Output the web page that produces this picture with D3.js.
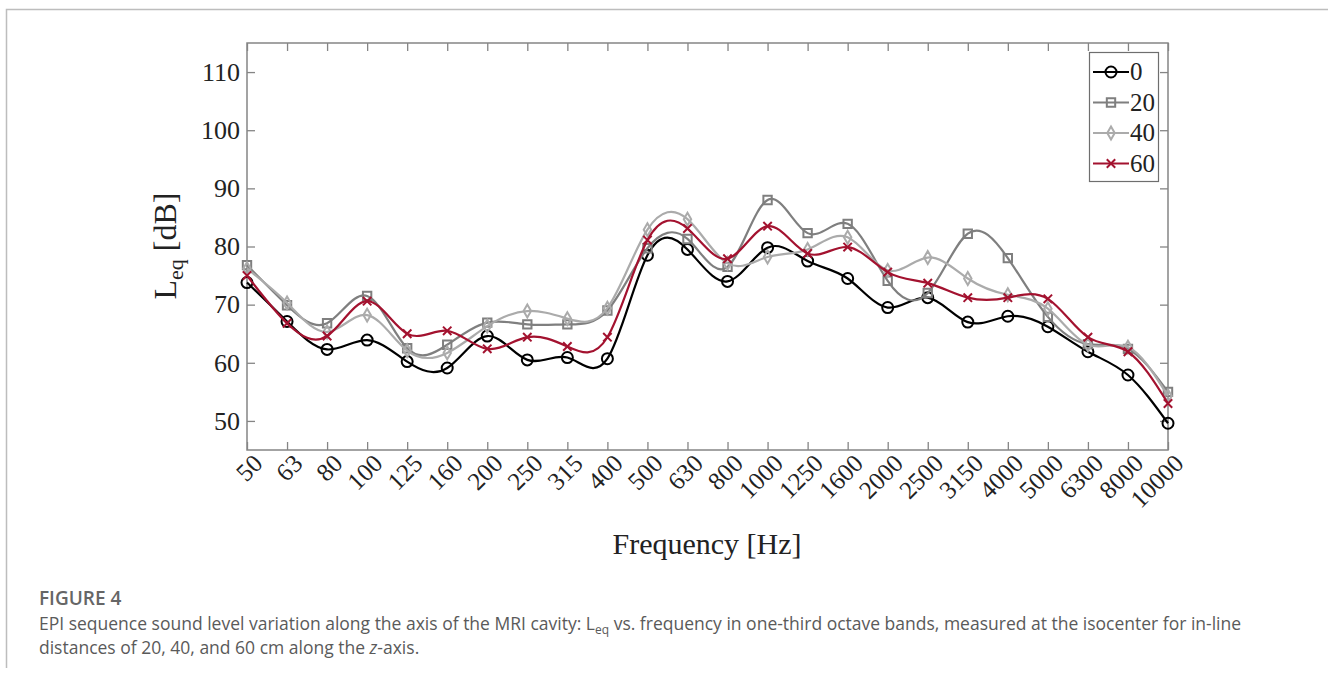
<!DOCTYPE html>
<html>
<head>
<meta charset="utf-8">
<script src="https://cdn.jsdelivr.net/npm/d3@7"></script>
<style>
  body { margin: 0; background: #fff; }
  svg { display: block; }
</style>
</head>
<body>
<svg id="fig" width="1328" height="675"></svg>
<script>
// one-third octave band centre frequencies (Hz)
const freqLabels = ["50", "63", "80", "100", "125", "160", "200", "250", "315", "400",
  "500", "630", "800", "1000", "1250", "1600", "2000", "2500", "3150", "4000",
  "5000", "6300", "8000", "10000"];

// Leq [dB] per distance (cm)
const leq0 = [73.8, 67.1, 62.3, 63.9, 60.2, 59.1, 64.6, 60.5, 60.9, 60.7,
  78.5, 79.5, 74.0, 79.8, 77.5, 74.5, 69.5, 71.2, 67.0, 68.0,
  66.2, 61.9, 57.9, 49.6];
const leq20 = [76.8, 69.9, 66.8, 71.5, 62.5, 63.1, 66.9, 66.6, 66.6, 69.0,
  79.7, 81.3, 76.5, 88.0, 82.3, 83.9, 74.1, 72.0, 82.2, 78.0,
  67.9, 63.2, 62.4, 55.0];
const leq40 = [76.2, 70.3, 65.3, 68.2, 62.1, 61.7, 66.3, 68.9, 67.6, 69.4,
  82.9, 84.7, 77.1, 78.2, 79.5, 81.6, 75.9, 78.1, 74.5, 71.7,
  69.3, 63.1, 62.7, 54.3];
const leq60 = [75.0, 66.8, 64.6, 70.6, 65.0, 65.5, 62.4, 64.4, 62.8, 64.4,
  81.1, 83.1, 77.9, 83.5, 78.8, 79.9, 75.6, 73.7, 71.2, 71.2,
  71.0, 64.4, 61.9, 53.0];

const seriesNames = ["0", "20", "40", "60"];
const yTicks = [50, 60, 70, 80, 90, 100, 110];

const series = [
  { name: seriesNames[0], values: leq0, color: "#000000", symbol: d3.symbolCircle, size: 95 },
  { name: seriesNames[1], values: leq20, color: "#7f7f7f", symbol: d3.symbolSquare, size: 70 },
  { name: seriesNames[2], values: leq40, color: "#ababab", symbol: d3.symbolDiamond, size: 48 },
  { name: seriesNames[3], values: leq60, color: "#a3122f", symbol: d3.symbolTimes, size: 48 }
];

const svg = d3.select("#fig");
const serif = "'Liberation Serif', 'DejaVu Serif', serif";
const axisGrey = "#858585";

// figure panel border
svg.append("path")
  .attr("d", "M6.5,668V9.5H1328")
  .attr("fill", "none")
  .attr("stroke", "#bdbdbd")
  .attr("stroke-width", 1.5);

const pLeft = 247, pRight = 1168, pTop = 43, pBottom = 450;

const x = d3.scalePoint().domain(freqLabels).range([pLeft, pRight]);
const y = d3.scaleLinear().domain([45, 115]).range([pBottom, pTop]);

// axes, ticks pointing inward
const gLeft = svg.append("g").attr("transform", `translate(${pLeft},0)`)
  .call(d3.axisLeft(y).tickValues(yTicks).tickSizeInner(-8).tickSizeOuter(0).tickPadding(7));
const gRight = svg.append("g").attr("transform", `translate(${pRight},0)`)
  .call(d3.axisRight(y).tickValues(yTicks).tickSizeInner(-8).tickSizeOuter(0).tickFormat(""));
const gBottom = svg.append("g").attr("transform", `translate(0,${pBottom})`)
  .call(d3.axisBottom(x).tickSizeInner(-8).tickSizeOuter(0).tickFormat(""));
const gTop = svg.append("g").attr("transform", `translate(0,${pTop})`)
  .call(d3.axisTop(x).tickSizeInner(-8).tickSizeOuter(0).tickFormat(""));

[gLeft, gRight, gBottom, gTop].forEach(g => {
  g.select(".domain").remove();
  g.selectAll(".tick line").attr("stroke", axisGrey).attr("stroke-width", 1.3);
});
gLeft.selectAll(".tick text")
  .attr("font-family", serif)
  .attr("font-size", 26)
  .attr("fill", "#222");

svg.append("rect")
  .attr("x", pLeft).attr("y", pTop)
  .attr("width", pRight - pLeft).attr("height", pBottom - pTop)
  .attr("fill", "none")
  .attr("stroke", axisGrey)
  .attr("stroke-width", 1.5);

// rotated frequency labels
svg.append("g").selectAll("text")
  .data(freqLabels)
  .join("text")
  .attr("transform", d => `translate(${x(d) + 17},465) rotate(-45)`)
  .attr("text-anchor", "end")
  .attr("font-family", serif)
  .attr("font-size", 25)
  .attr("fill", "#222")
  .text(d => d);

// axis titles
svg.append("text")
  .attr("x", 707).attr("y", 554)
  .attr("text-anchor", "middle")
  .attr("font-family", serif)
  .attr("font-size", 30)
  .attr("fill", "#222")
  .text("Frequency [Hz]");

const yTitle = svg.append("text")
  .attr("transform", "translate(176,246) rotate(-90)")
  .attr("text-anchor", "middle")
  .attr("font-family", serif)
  .attr("font-size", 32)
  .attr("fill", "#222");
yTitle.append("tspan").text("L");
yTitle.append("tspan").attr("font-size", 22).attr("dy", 7).text("eq");
yTitle.append("tspan").attr("dy", -7).text(" [dB]");

// curves and markers
const line = d3.line()
  .x((d, i) => x(freqLabels[i]))
  .y(d => y(d))
  .curve(d3.curveNatural);

series.forEach(s => {
  const g = svg.append("g");
  g.append("path")
    .attr("d", line(s.values))
    .attr("fill", "none")
    .attr("stroke", s.color)
    .attr("stroke-width", 2.2);
  g.selectAll("path.mk")
    .data(s.values)
    .join("path")
    .attr("class", "mk")
    .attr("transform", (d, i) => `translate(${x(freqLabels[i])},${y(d)})`)
    .attr("d", d3.symbol().type(s.symbol).size(s.size))
    .attr("fill", "none")
    .attr("stroke", s.color)
    .attr("stroke-width", 2);
});

// legend
const lg = svg.append("g");
lg.append("rect")
  .attr("x", 1089.5).attr("y", 52.5)
  .attr("width", 69).attr("height", 129)
  .attr("fill", "#fff")
  .attr("stroke", "#6e6e6e")
  .attr("stroke-width", 1.2);
series.forEach((s, i) => {
  const cy = 72 + i * 30.5;
  lg.append("line")
    .attr("x1", 1093).attr("x2", 1129)
    .attr("y1", cy).attr("y2", cy)
    .attr("stroke", s.color).attr("stroke-width", 2.2);
  lg.append("path")
    .attr("transform", `translate(1111,${cy})`)
    .attr("d", d3.symbol().type(s.symbol).size(s.size))
    .attr("fill", "none")
    .attr("stroke", s.color)
    .attr("stroke-width", 2);
  lg.append("text")
    .attr("x", 1130).attr("y", cy + 8)
    .attr("font-family", serif)
    .attr("font-size", 25)
    .attr("fill", "#222")
    .text(s.name);
});

// caption
const sans = "'Open Sans', 'Noto Sans', sans-serif";
svg.append("text")
  .attr("x", 39).attr("y", 605)
  .attr("font-family", sans)
  .attr("font-weight", 600)
  .attr("font-size", 19)
  .attr("fill", "#666")
  .text("FIGURE 4");

const cap1 = svg.append("text")
  .attr("x", 39).attr("y", 630)
  .attr("font-family", sans)
  .attr("font-size", 17.5)
  .attr("fill", "#5a5a5a");
cap1.append("tspan").text("EPI sequence sound level variation along the axis of the MRI cavity: L");
cap1.append("tspan").attr("font-size", 12).attr("dy", 4).text("eq");
cap1.append("tspan").attr("dy", -4).text(" vs. frequency in one-third octave bands, measured at the isocenter for in-line");

const cap2 = svg.append("text")
  .attr("x", 39).attr("y", 654)
  .attr("font-family", sans)
  .attr("font-size", 17.5)
  .attr("fill", "#5a5a5a");
cap2.append("tspan").text("distances of 20, 40, and 60 cm along the ");
cap2.append("tspan").attr("font-style", "italic").text("z");
cap2.append("tspan").text("-axis.");
</script>
</body>
</html>
